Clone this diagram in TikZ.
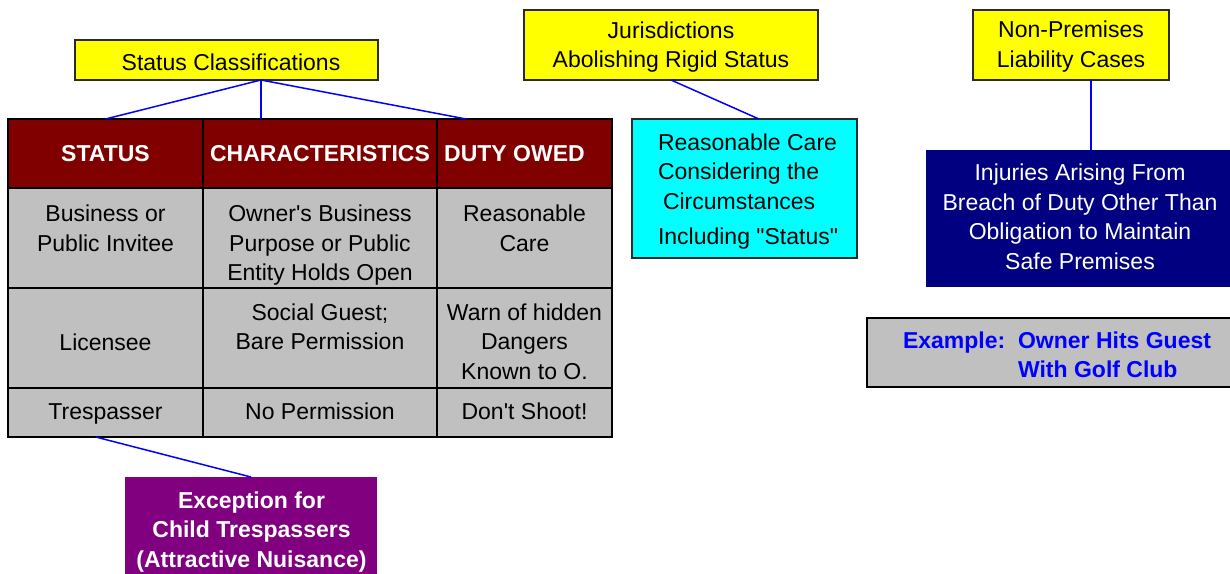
\documentclass[tikz,border=0pt]{standalone}
\usepackage{fontspec}
\setmainfont{Liberation Sans}[Ligatures=TeXOff]
\usetikzlibrary{calc}
\definecolor{ylw}{HTML}{FFFF00}
\definecolor{cyn}{HTML}{00FFFF}
\definecolor{nvy}{HTML}{000080}
\definecolor{prp}{HTML}{800080}
\definecolor{mrn}{HTML}{800000}
\definecolor{cgray}{HTML}{C0C0C0}
\definecolor{lblue}{HTML}{0000FF}
\definecolor{bdr}{HTML}{2A2A2A}
\newcommand{\tst}{\rule[-7pt]{0pt}{29pt}}
\begin{document}
\begin{tikzpicture}[x=1pt,y=-1pt,
  box/.style={draw=bdr, line width=1.5pt, inner sep=0pt, outer sep=0pt},
  plain/.style={inner sep=0pt, outer sep=0pt},
  cell/.style={draw=black, line width=1.8pt, fill=cgray, inner sep=0pt, outer sep=0pt},
  hcell/.style={cell, fill=mrn},
  txt/.style={inner sep=0pt, outer sep=0pt, align=center, font=\fontsize{23}{29.5}\selectfont},
  btxt/.style={txt, font=\fontsize{23}{29.5}\selectfont\bfseries},
  link/.style={draw=lblue, line width=1.5pt}]
\fill[white] (0,0) rectangle (1230,573);
\clip (0,0) rectangle (1230,573);
\useasboundingbox (0,0) rectangle (1230,573);

% top boxes
\node[box, fill=ylw, minimum width=303, minimum height=40] (sc) at (226.5,60) {};
\node[txt] (sct) at (231,62.5) {\tst Status Classifications};
\node[box, fill=ylw, minimum width=294, minimum height=70] (jur) at (671,45) {};
\node[txt] (jurt) at (671,45.5) {\tst Jurisdictions\\\tst Abolishing Rigid Status};
\node[box, fill=ylw, minimum width=196, minimum height=70] (np) at (1071,45) {};
\node[txt] (npt) at (1071,45) {\tst Non-Premises\\\tst Liability Cases};

% table header
\node[hcell, minimum width=195, minimum height=69] (hs) at (105.5,153.5) {};
\node[hcell, minimum width=234, minimum height=69] (hc) at (320,153.5) {};
\node[hcell, minimum width=175, minimum height=69] (hd) at (524.5,153.5) {};
\node[btxt, text=white] (hst) at (105.5,153.5) {\tst STATUS};
\node[btxt, text=white] (hct) at (320,153.5) {\tst CHARACTERISTICS};
\node[btxt, text=white] (hdt) at (514.5,153.5) {\tst DUTY OWED};

% row 1
\node[cell, minimum width=195, minimum height=100] (r1a) at (105.5,238) {};
\node[cell, minimum width=234, minimum height=100] (r1b) at (320,238) {};
\node[cell, minimum width=175, minimum height=100] (r1c) at (524.5,238) {};
\node[txt] (r1at) at (105.5,229) {\tst Business or\\\tst Public Invitee};
\node[txt] (r1bt) at (320,243.5) {\tst Owner's Business\\\tst Purpose or Public\\\tst Entity Holds Open};
\node[txt] (r1ct) at (524.5,229) {\tst Reasonable\\\tst Care};

% row 2
\node[cell, minimum width=195, minimum height=100] (r2a) at (105.5,338) {};
\node[cell, minimum width=234, minimum height=100] (r2b) at (320,338) {};
\node[cell, minimum width=175, minimum height=100] (r2c) at (524.5,338) {};
\node[txt] (r2at) at (105.5,343) {\tst Licensee};
\node[txt] (r2bt) at (320,327.5) {\tst Social Guest;\\\tst Bare Permission};
\node[txt] (r2ct) at (524.5,342) {\tst Warn of hidden\\\tst Dangers\\\tst Known to O.};

% row 3
\node[cell, minimum width=195, minimum height=49] (r3a) at (105.5,412.5) {};
\node[cell, minimum width=234, minimum height=49] (r3b) at (320,412.5) {};
\node[cell, minimum width=175, minimum height=49] (r3c) at (524.5,412.5) {};
\node[txt] (r3at) at (105.5,411.5) {\tst Trespasser};
\node[txt] (r3bt) at (320,411.5) {\tst No Permission};
\node[txt] (r3ct) at (524.5,411.5) {\tst Don't Shoot!};

% cyan box
\node[box, fill=cyn, minimum width=225, minimum height=139] (cy) at (744.5,188.5) {};
\node[txt, align=left, anchor=west] (cyt) at (658,189.75) {\tst Reasonable Care\\\tst Considering the\\\hspace*{5pt}\tst Circumstances\\[5.5pt]\tst Including "Status"};

% navy box
\node[plain, fill=nvy, minimum width=308, minimum height=137] (inj) at (1080,218.5) {};
\node[txt, text=white] (injt) at (1080,217.5) {\tst Injuries Arising From\\\tst Breach of Duty Other Than\\\tst Obligation to Maintain\\\tst Safe Premises};

% example box
\node[draw=black, line width=2pt, fill=cgray, inner sep=0pt, outer sep=0pt, minimum width=367, minimum height=69] (ex) at (1050.5,352.5) {};
\node[btxt, align=left, anchor=west, text=lblue] (ext) at (903,355.5) {\tst Example:\ \ Owner Hits Guest\\\tst\phantom{Example:\ \ }With Golf Club};

% purple box
\node[plain, fill=prp, minimum width=252, minimum height=103] (pur) at (251,528.5) {};
\node[btxt, text=white] (purt) at (251.5,530) {\tst Exception for\\\tst Child Trespassers\\\tst (Attractive Nuisance)};

% connectors
\coordinate (scj) at ($(sc.south west)!0.614!(sc.south east)$);
\draw[link] (scj) -- (hs.north);
\draw[link] (scj) -- (scj |- hc.north);
\draw[link] (scj) -- ($(hd.north west)!0.166!(hd.north east)$);
\draw[link] (jur.south) -- ($(cy.north west)!0.564!(cy.north east)$);
\draw[link] ([xshift=20pt]np.south) -- ([xshift=20pt]np.south |- inj.north);
\draw[link] ($(r3a.south west)!0.45!(r3a.south east)$) -- (pur.north);
\end{tikzpicture}
\end{document}
